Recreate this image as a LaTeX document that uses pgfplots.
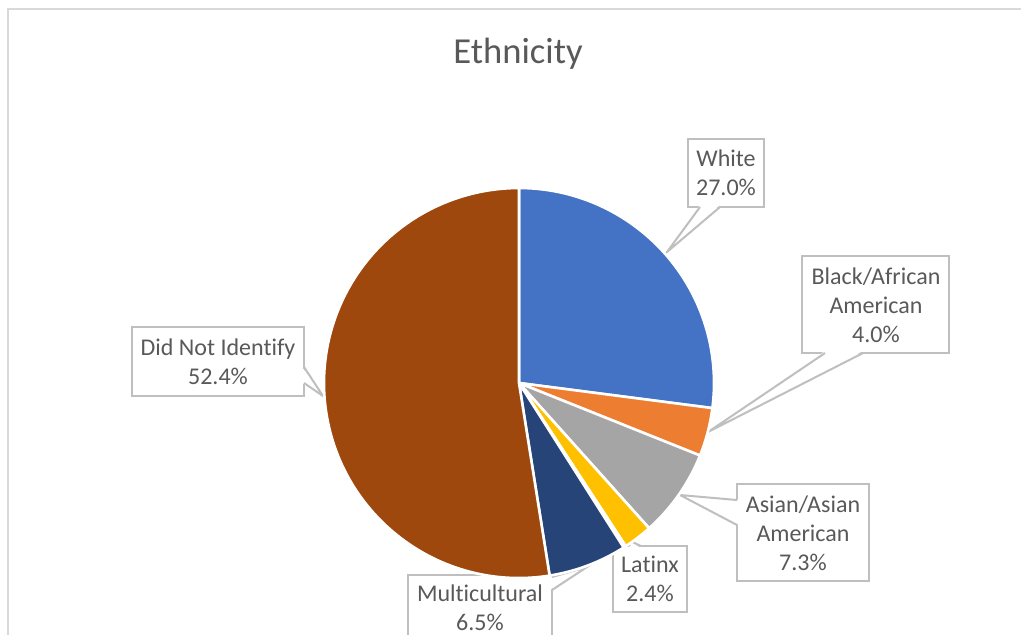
\documentclass[border=0pt]{standalone}
\usepackage{pgfplots}
\pgfplotsset{compat=1.18}
\usepackage{pgfplotstable}
\usepackage{fontspec}
\setmainfont{Carlito}[Ligatures=NoCommon]

\definecolor{slice0}{HTML}{4472C4}
\definecolor{slice1}{HTML}{ED7D31}
\definecolor{slice2}{HTML}{A5A5A5}
\definecolor{slice3}{HTML}{FFC000}
\definecolor{slice4}{HTML}{5B9BD5}
\definecolor{slice5}{HTML}{264478}
\definecolor{slice6}{HTML}{9E480E}
\definecolor{txt}{HTML}{595959}
\definecolor{boxc}{HTML}{BFBFBF}
\definecolor{framec}{HTML}{D9D9D9}

% slices in Excel order, clockwise from 12 o'clock (start = cumulative %)
% total of all slices = 99.8
\pgfplotstableread{
x   y   start  val   idx
519 383 0      27.0  0
519 383 27.0   4.0   1
519 383 31.0   7.3   2
519 383 38.3   2.4   3
519 383 40.7   0.2   4
519 383 40.9   6.5   5
519 383 47.4   52.4  6
}\slices

\begin{document}
\begin{tikzpicture}
\begin{axis}[
	width=510.5pt, height=317pt,
	scale only axis,
	xmin=0, xmax=1021, ymin=0, ymax=634,
	y dir=reverse,
	hide axis,
	clip=false,
]

\addplot[
	scatter, only marks,
	mark=text, text mark={},
	visualization depends on={90-360*\thisrow{start}/99.8 \as \angA},
	visualization depends on={90-360*(\thisrow{start}+\thisrow{val})/99.8 \as \angB},
	visualization depends on={\thisrow{idx} \as \sliceidx},
	scatter/@pre marker code/.code={%
		\pgfmathtruncatemacro\ci{\sliceidx}%
		\fill[fill=slice\ci, draw=white, line width=1.3pt, line join=round]
			(0,0) -- (\angA:97.5pt) arc[start angle=\angA, end angle=\angB, radius=97.5pt] -- cycle;
	},
	scatter/@post marker code/.code={},
] table[x=x, y=y] {\slices};

% chart frame (right and bottom sides fall outside the picture)
\draw[framec, line width=1pt] (axis cs:8,640) -- (axis cs:8,9) -- (axis cs:1030,9);

% title
\node[text=txt, font=\fontsize{18.3}{22}\selectfont] at (axis cs:518,54) {Ethnicity};

\tikzset{lbl/.style={text=txt, align=center, font=\fontsize{12}{14.6}\selectfont},
	bx/.style={draw=boxc, fill=white, line width=1pt},
	ld/.style={draw=boxc, line width=1pt, line join=miter}}

% White
\draw[bx] (axis cs:688,139) rectangle (axis cs:764,207);
\fill[white] (axis cs:700,205) -- (axis cs:667,252) -- (axis cs:720,205) -- cycle;
\draw[ld] (axis cs:700,207) -- (axis cs:667,252) -- (axis cs:720,207);
\node[lbl] at (axis cs:726,173) {White\\27.0\%};

% Black/African American
\draw[bx] (axis cs:802,256) rectangle (axis cs:949,353);
\fill[white] (axis cs:825,351) -- (axis cs:708,432) -- (axis cs:863,351) -- cycle;
\draw[ld] (axis cs:825,353) -- (axis cs:708,432) -- (axis cs:863,353);
\node[lbl] at (axis cs:876,305) {Black/African\\American\\4.0\%};

% Asian/Asian American
\draw[bx] (axis cs:737,484) rectangle (axis cs:869,581);
\fill[white] (axis cs:739,500) -- (axis cs:680,495) -- (axis cs:739,525) -- cycle;
\draw[ld] (axis cs:737,500) -- (axis cs:680,495) -- (axis cs:737,525);
\node[lbl] at (axis cs:803,533) {Asian/Asian\\American\\7.3\%};

% Latinx
\draw[bx] (axis cs:613,546) rectangle (axis cs:687,612);
\fill[white] (axis cs:630,548) -- (axis cs:626,539) -- (axis cs:641,548) -- cycle;
\draw[ld] (axis cs:630,546) -- (axis cs:626,539) -- (axis cs:641,546);
\node[lbl] at (axis cs:650,579) {Latinx\\2.4\%};

% Multicultural
\draw[bx] (axis cs:408,575) rectangle (axis cs:552,660);
\fill[white] (axis cs:550,577) -- (axis cs:587,567) -- (axis cs:550,590) -- cycle;
\draw[ld] (axis cs:552,577) -- (axis cs:587,567) -- (axis cs:552,590);
\node[lbl] at (axis cs:480,608) {Multicultural\\6.5\%};

% Did Not Identify
\draw[bx] (axis cs:132,327) rectangle (axis cs:304,396);
\fill[white] (axis cs:302,367) -- (axis cs:323,396) -- (axis cs:302,383) -- cycle;
\draw[ld] (axis cs:304,367) -- (axis cs:323,396) -- (axis cs:304,383);
\node[lbl] at (axis cs:218,362) {Did Not Identify\\52.4\%};

\coordinate (BL) at (rel axis cs:0,0);
\coordinate (TR) at (rel axis cs:1,1);
\end{axis}
\pgfresetboundingbox
\path (BL) rectangle (TR);
\end{tikzpicture}
\end{document}
